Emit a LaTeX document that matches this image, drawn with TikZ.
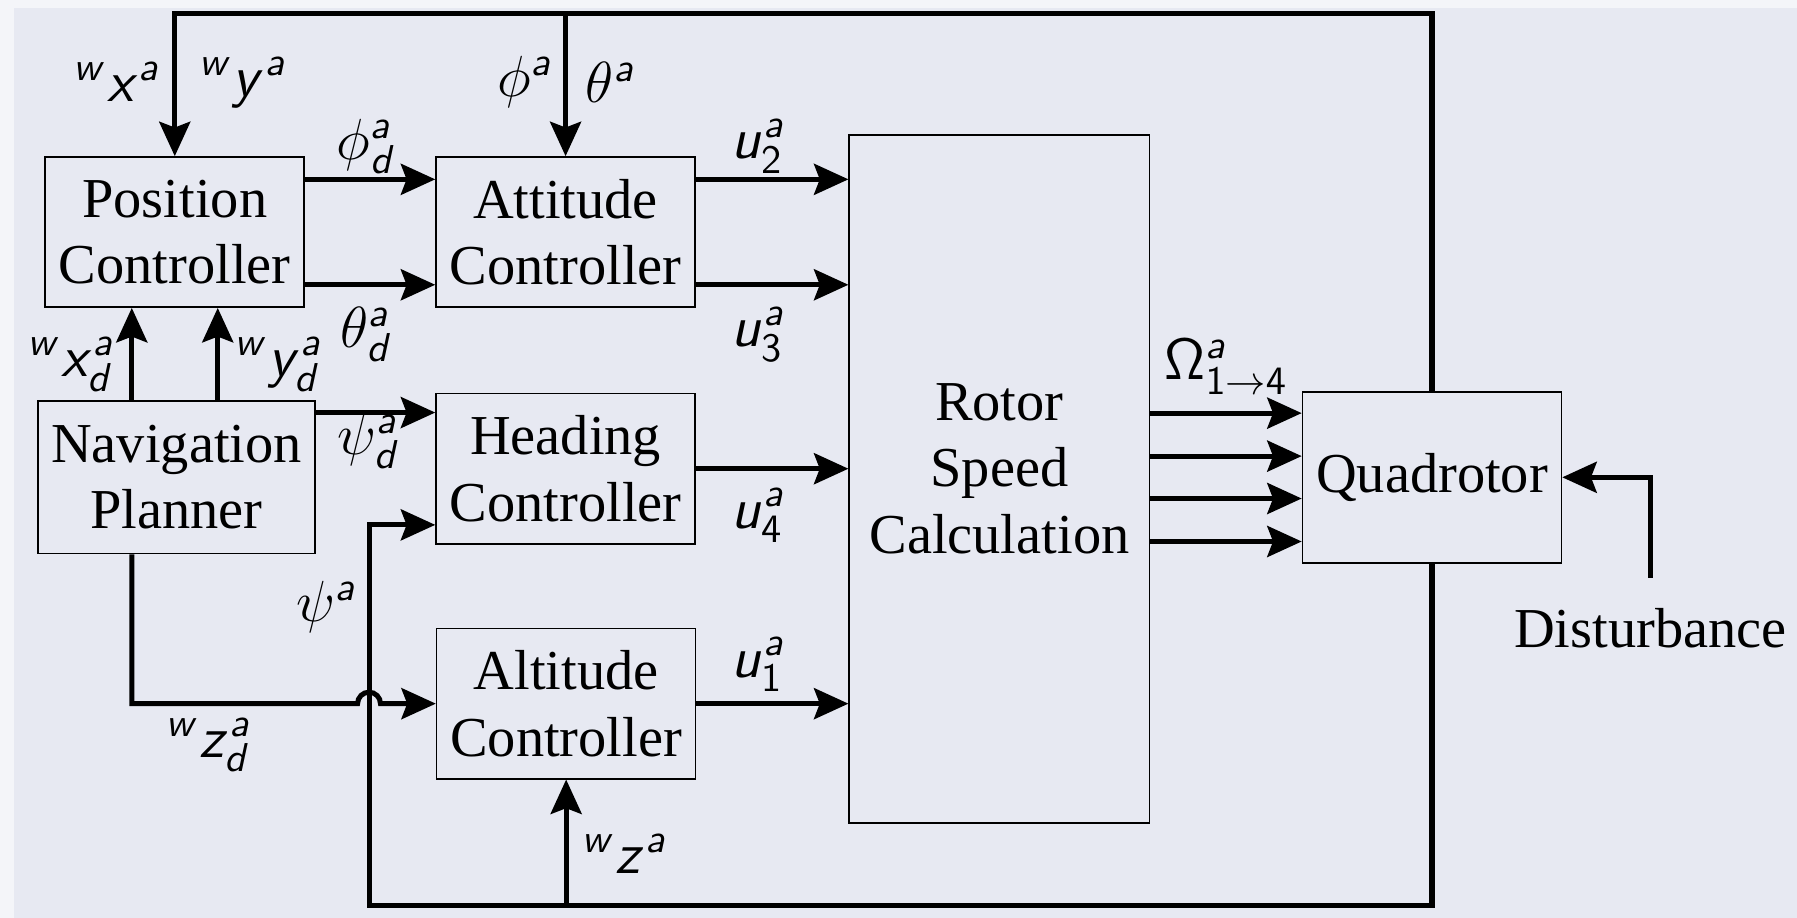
\documentclass[tikz,border=0pt]{standalone}
\usepackage{fontspec}
\setmainfont{Liberation Serif}
\usetikzlibrary{arrows.meta,calc,positioning}
\definecolor{BgClr}{RGB}{231,233,242}
\definecolor{EdgeClr}{RGB}{244,245,249}
\DeclareMathAlphabet{\mssl}{OT1}{cmss}{m}{sl}
\DeclareMathAlphabet{\mssn}{OT1}{cmss}{m}{n}
\newcommand{\sfv}[1]{\mssl{#1}}

\begin{document}
\begin{tikzpicture}[
  every node/.style={font=\fontsize{14}{16.5}\selectfont},
  blk/.style={draw,line width=0.4pt,align=center,minimum width=2.26cm,minimum height=1.31cm,inner sep=0pt},
  sig/.style={line width=1.25pt},
  arr/.style={sig,-{Stealth[length=0.3cm,width=0.27cm,inset=0.05cm]}},
  lbl/.style={inner sep=0pt}]

\fill[EdgeClr] (0,0) rectangle (15.68,-8.01);
\fill[BgClr] (0.12,-0.07) rectangle (15.68,-8.01);
\useasboundingbox (0,0) rectangle (15.68,-8.01);

\node[blk] (pos) at (1.525,-2.025) {Position\\Controller};
\node[blk] (att) at (4.935,-2.025) {Attitude\\Controller};
\node[blk,minimum width=2.42cm,minimum height=1.33cm] (nav) at (1.54,-4.165) {Navigation\\Planner};
\node[blk] (head) at (4.935,-4.09) {Heading\\Controller};
\node[blk] (alt) at (4.94,-6.14) {Altitude\\Controller};
\node[blk,minimum width=2.62cm,minimum height=6.0cm] (rsc) at (8.72,-4.18) {};
\node[lbl,align=center] (rsctxt) at ([yshift=0.9mm]rsc.center) {Rotor\\Speed\\Calculation};
\node[blk,minimum height=1.49cm] (quad) at (12.495,-4.165) {Quadrotor};
\node[lbl] (dist) at (14.40,-5.48) {Disturbance};

\coordinate (top) at (1.525,-0.12);
\coordinate (bot) at (3.22,-7.90);
\coordinate (xd) at (1.15,0);
\coordinate (yd) at (1.90,0);
\coordinate (hin) at ([yshift=4.9mm]head.west);
\coordinate (hfb) at ([yshift=-4.9mm]head.west);
\coordinate (hop) at (bot |- alt.west);
\coordinate (u2) at ([yshift=4.6mm]att.east);
\coordinate (u3) at ([yshift=-4.6mm]att.east);

\draw[arr] (quad.north) |- (top) -- (pos.north);
\draw[arr] (att.north |- top) -- (att.north);
\draw[arr] (quad.south) |- (bot) |- (hfb);
\draw[arr] (alt.south |- bot) -- (alt.south);

\draw[arr] (xd |- nav.north) -- (xd |- pos.south);
\draw[arr] (yd |- nav.north) -- (yd |- pos.south);
\draw[arr] (nav.east |- hin) -- (hin);
\draw[arr] (xd |- nav.south) |- ($(hop)+(-0.1,0)$) arc[start angle=180,end angle=0,radius=0.1] -- (alt.west);

\draw[arr] ([yshift=4.6mm]pos.east) -- ([yshift=4.6mm]att.west);
\draw[arr] ([yshift=-4.6mm]pos.east) -- ([yshift=-4.6mm]att.west);
\draw[arr] (u2) -- (rsc.west |- u2);
\draw[arr] (u3) -- (rsc.west |- u3);
\draw[arr] (head.east) -- (rsc.west |- head.east);
\draw[arr] (alt.east) -- (rsc.west |- alt.east);
\foreach \dy [count=\i] in {5.6,1.85,-1.85,-5.6} {
  \coordinate (w\i) at ([yshift=\dy mm]quad.west);
  \draw[arr] (rsc.east |- w\i) -- (w\i);
}
\draw[arr] ([yshift=2.6mm]dist.north) |- (quad.east);

\node[lbl] (lxa) at (1.02,-0.72) {$^{\sfv{w}}\sfv{x}^{\sfv{a}}$};
\node[lbl] (lya) at (2.12,-0.72) {$^{\sfv{w}}\sfv{y}^{\sfv{a}}$};
\node[lbl] (lphi) at (4.58,-0.72) {$\phi^{\sfv{a}}$};
\node[lbl] (ltheta) at (5.33,-0.72) {$\theta^{\sfv{a}}$};
\node[lbl] (lphid) at (3.20,-1.28) {$\phi^{\sfv{a}}_{\sfv{d}}$};
\node[lbl] (lthetad) at (3.20,-2.92) {$\theta^{\sfv{a}}_{\sfv{d}}$};
\node[lbl] (lu2) at (6.62,-1.28) {$\sfv{u}^{\sfv{a}}_{\mssn{2}}$};
\node[lbl] (lu3) at (6.62,-2.92) {$\sfv{u}^{\sfv{a}}_{\mssn{3}}$};
\node[lbl] (lxd) at (0.62,-3.18) {$^{\sfv{w}}\sfv{x}^{\sfv{a}}_{\sfv{d}}$};
\node[lbl] (lyd) at (2.43,-3.18) {$^{\sfv{w}}\sfv{y}^{\sfv{a}}_{\sfv{d}}$};
\node[lbl] (lpsid) at (3.22,-3.85) {$\psi^{\sfv{a}}_{\sfv{d}}$};
\node[lbl] (lu4) at (6.62,-4.50) {$\sfv{u}^{\sfv{a}}_{\mssn{4}}$};
\node[lbl] (lpsi) at (2.85,-5.30) {$\psi^{\sfv{a}}$};
\node[lbl] (lzd) at (1.82,-6.50) {$^{\sfv{w}}\sfv{z}^{\sfv{a}}_{\sfv{d}}$};
\node[lbl] (lu1) at (6.62,-5.80) {$\sfv{u}^{\sfv{a}}_{\mssn{1}}$};
\node[lbl] (lz) at (5.45,-7.45) {$^{\sfv{w}}\sfv{z}^{\sfv{a}}$};
\node[lbl] (lom) at (10.70,-3.20) {$\mssn{\Omega}^{\sfv{a}}_{\mssn{1}\to\mssn{4}}$};

\end{tikzpicture}
\end{document}
